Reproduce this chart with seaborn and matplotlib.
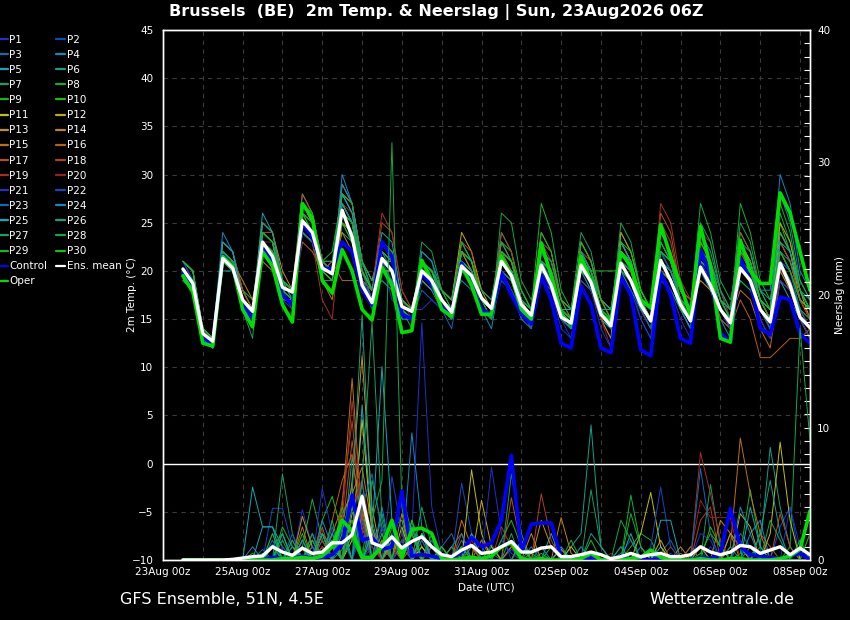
import matplotlib
matplotlib.use("Agg")
import matplotlib.pyplot as plt
import matplotlib.dates as mdates
from matplotlib.lines import Line2D
from matplotlib.ticker import MultipleLocator
import pandas as pd
import seaborn as sns

# 6-hourly forecast steps, first one at 23Aug 12Z, last at 08Sep 06Z
times = pd.date_range("2026-08-23 12:00", periods=64, freq="6h")
tick_days = pd.date_range("2026-08-23", "2026-09-08", freq="2D")

member_names = [f"P{i}" for i in range(1, 31)]
base_colors = ["#1f2fd0", "#1448c0", "#1468b4", "#1488c0", "#14a8b4",
               "#14a088", "#14a064", "#14a844", "#14b42c", "#14c014"]
warm_colors = ["#c0c014", "#c0a814", "#c09414", "#c08414", "#c07014",
               "#b86014", "#b45020", "#b04020", "#a83020", "#982020"]
member_colors = base_colors + warm_colors + base_colors

# 2m temperature of the 30 perturbed members (deg C)
P1_T = [20,19,13,12, 22,21,17,15, 23,22,18,17, 26,25,20,20, 27,25,19,17, 22,21,16,15, 20,19,17,16, 21,19,16,15,
        20,19,16,15, 20,18,14,13, 20,18,15,13, 22,20,17,15, 20,18,16,14, 21,19,16,14, 19,18,15,13, 20,18,15,13]
P2_T = [21,19,14,13, 21,20,17,16, 24,23,19,18, 25,24,20,21, 28,26,20,18, 20,19,16,16, 19,18,17,16, 22,21,17,15,
        22,21,17,16, 23,21,16,15, 22,20,17,15, 20,19,16,14, 22,20,18,16, 19,18,15,14, 21,19,16,14, 22,20,17,15]
P3_T = [20,18,13,12, 22,21,16,15, 25,24,19,18, 27,25,21,20, 25,23,19,16, 21,19,16,15, 18,17,16,15, 20,19,16,15,
        21,20,16,14, 19,18,15,14, 23,21,17,16, 21,20,18,16, 20,19,16,14, 22,20,17,15, 22,20,17,15, 24,22,18,16]
P4_T = [21,20,14,13, 23,22,18,16, 22,21,17,17, 24,23,20,19, 30,27,21,19, 23,21,17,16, 21,20,18,17, 19,18,16,14,
        20,18,15,14, 22,20,16,15, 19,18,15,14, 23,21,17,15, 21,19,16,15, 20,18,15,13, 23,21,17,16, 28,25,19,17]
P5_T = [21,20,13,13, 20,20,17,16, 26,24,19,18, 28,26,21,20, 26,24,20,18, 19,18,15,15, 22,21,18,17, 23,21,17,16,
        19,18,16,15, 21,19,15,14, 21,19,15,14, 20,18,16,14, 23,21,18,16, 21,20,17,16, 20,19,16,14, 19,17,15,14]
P6_T = [20,19,14,13, 22,21,17,15, 23,22,18,18, 24,23,19,19, 27,25,20,17, 22,20,16,15, 20,19,17,15, 20,19,17,16,
        24,22,17,15, 20,19,16,15, 20,18,16,15, 22,20,17,16, 19,18,16,14, 24,22,18,15, 21,19,16,15, 21,20,17,16]
P7_T = [19,18,13,12, 21,20,16,13, 24,23,18,17, 26,25,21,21, 24,23,19,18, 20,20,17,16, 21,20,17,16, 22,20,17,16,
        21,20,18,16, 22,21,17,16, 24,22,17,16, 21,20,17,15, 21,20,17,16, 22,21,18,16, 24,22,18,16, 23,21,18,16]
P8_T = [20,19,14,13, 21,21,18,16, 22,21,17,17, 25,24,20,20, 29,27,21,18, 21,20,16,14, 19,18,16,15, 21,20,17,15,
        26,25,19,17, 21,20,16,16, 22,20,16,15, 24,22,18,16, 22,20,17,16, 27,24,19,17, 22,21,17,15, 26,23,19,17]
P9_T = [20,18,13,12, 23,22,18,17, 23,22,18,18, 27,25,21,22, 28,26,20,18, 22,21,17,16, 20,19,17,16, 21,20,16,15,
        22,21,17,16, 27,24,18,16, 20,19,16,15, 21,20,17,16, 23,21,18,16, 20,19,16,15, 27,24,19,17, 22,20,17,15]
P10_T = [19,18,13,12, 22,21,17,16, 24,23,19,17, 26,24,20,20, 25,23,20,18, 21,20,16,15, 21,20,18,16, 22,21,18,17,
         23,22,18,16, 21,20,17,16, 21,20,20,20, 20,19,16,15, 20,19,17,15, 23,21,17,15, 19,18,16,15, 25,22,18,16]
P11_T = [20,19,14,13, 22,21,17,16, 24,23,18,17, 25,24,20,20, 27,25,19,17, 21,21,17,16, 19,18,17,16, 20,19,16,15,
         20,19,16,15, 22,20,15,14, 23,21,17,16, 22,21,17,15, 21,20,17,16, 20,19,16,15, 23,21,17,16, 24,22,17,16]
P12_T = [21,20,14,13, 21,20,17,15, 23,22,19,18, 27,25,21,20, 26,25,20,18, 20,20,16,15, 21,20,18,17, 24,22,18,16,
         21,20,17,16, 20,19,16,15, 21,20,16,14, 23,21,17,16, 24,22,18,16, 21,20,17,16, 20,19,16,15, 25,23,18,15]
P13_T = [20,19,13,13, 22,21,18,16, 25,24,20,18, 26,25,20,19, 28,27,21,19, 23,22,17,16, 20,19,17,16, 21,20,17,16,
         23,21,17,15, 21,20,16,15, 20,19,15,13, 24,22,18,16, 20,19,16,15, 22,20,16,14, 21,20,16,14, 20,18,15,13]
P14_T = [20,19,14,13, 21,21,19,17, 21,20,18,18, 25,24,20,20, 24,22,19,17, 22,21,17,16, 20,19,17,16, 22,20,17,16,
         22,20,17,16, 24,22,17,16, 22,20,17,15, 21,20,16,15, 21,20,18,17, 19,18,16,15, 22,20,17,15, 23,21,17,15]
P15_T = [20,18,13,12, 22,21,17,16, 24,23,18,17, 24,23,19,17, 25,24,20,18, 21,20,16,15, 21,20,18,17, 20,19,17,16,
         21,20,17,15, 22,21,17,16, 21,20,16,15, 20,19,16,15, 22,21,17,15, 23,21,17,15, 18,17,14,12, 19,18,15,13]
P16_T = [20,19,14,13, 21,20,17,15, 23,22,17,17, 23,22,20,21, 19,19,19,18, 21,20,16,15, 21,20,18,17, 22,21,17,16,
         20,19,16,15, 21,20,16,15, 19,18,15,15, 22,21,17,16, 20,19,16,16, 20,19,15,14, 17,15,11,11, 12,13,13,14]
P17_T = [21,20,14,13, 22,21,17,16, 24,24,19,18, 28,26,21,20, 29,27,20,18, 23,22,17,16, 20,19,17,15, 23,22,17,16,
         22,21,17,15, 23,22,17,15, 21,19,16,14, 21,20,16,15, 26,24,18,16, 22,21,17,16, 24,22,17,15, 21,19,16,14]
P18_T = [20,19,14,13, 23,22,18,16, 22,21,18,17, 26,25,21,20, 25,24,20,18, 25,24,18,16, 19,18,16,15, 21,20,17,16,
         24,22,17,16, 21,20,16,15, 22,21,17,16, 23,21,17,15, 25,23,18,17, 20,19,16,15, 20,19,16,15, 23,21,17,15]
P19_T = [20,19,14,13, 21,20,17,16, 23,22,18,16, 24,23,17,15, 26,25,20,18, 26,24,18,16, 20,19,17,16, 22,21,17,16,
         21,20,16,15, 22,20,16,15, 23,21,17,15, 22,21,17,15, 27,25,19,17, 21,20,16,14, 22,20,16,14, 22,20,17,15]
P20_T = [20,19,14,12, 22,21,17,15, 23,23,18,17, 26,25,21,20, 27,26,20,17, 23,22,17,15, 20,19,17,16, 20,19,16,15,
         22,21,17,16, 23,21,16,15, 20,19,15,12, 21,19,16,14, 21,20,17,15, 24,23,18,15, 20,19,15,13, 20,19,16,14]
P21_T = [20,19,13,12, 21,20,16,15, 22,21,17,16, 24,23,20,20, 23,22,19,17, 21,17,16,16, 16,17,16,15, 20,19,16,15,
         19,18,16,15, 20,19,15,13, 19,18,14,12, 20,19,15,13, 19,18,15,13, 21,20,16,14, 20,19,15,13, 19,18,15,13]
P22_T = [21,19,14,13, 22,21,17,16, 23,22,18,17, 25,24,20,19, 26,24,19,17, 21,20,16,15, 21,20,17,16, 21,20,17,16,
         20,19,16,15, 22,20,16,14, 21,20,16,14, 19,18,15,13, 22,20,17,15, 22,21,17,15, 21,20,16,14, 21,20,16,15]
P23_T = [20,19,13,13, 22,21,17,15, 24,23,19,18, 26,25,20,20, 27,25,20,17, 22,21,16,15, 20,19,16,14, 20,19,16,15,
         21,20,16,14, 21,19,15,14, 22,20,16,14, 21,19,16,14, 21,20,17,16, 20,19,16,15, 21,19,16,14, 22,20,16,14]
P24_T = [20,19,14,13, 24,22,17,16, 22,22,18,17, 24,23,20,20, 29,27,21,18, 20,19,16,15, 22,21,17,16, 21,20,17,16,
         22,21,17,16, 20,19,16,15, 21,20,16,15, 22,21,17,15, 21,19,16,14, 22,20,17,15, 20,20,18,18, 30,27,20,18]
P25_T = [21,20,14,13, 23,22,17,15, 24,23,18,18, 25,24,20,20, 28,26,20,18, 24,23,17,16, 21,20,17,16, 22,21,17,16,
         21,20,17,15, 21,20,16,16, 20,19,16,16, 23,21,17,16, 22,21,17,15, 21,20,16,15, 22,21,17,16, 23,22,18,16]
P26_T = [20,19,13,12, 22,21,17,16, 25,24,19,17, 25,24,20,19, 27,25,20,18, 22,21,17,16, 19,18,16,15, 21,20,17,16,
         20,19,16,15, 21,20,16,14, 22,20,17,16, 20,19,16,15, 21,20,17,16, 22,21,17,16, 23,22,18,17, 24,22,18,16]
P27_T = [20,19,14,13, 21,20,17,16, 23,22,18,17, 24,23,20,19, 26,25,21,19, 21,21,17,16, 20,19,18,17, 21,20,18,17,
         23,21,17,16, 22,21,17,16, 21,20,16,15, 21,20,17,16, 22,21,18,16, 25,23,18,16, 21,20,17,16, 22,21,18,17]
P28_T = [19,18,13,12, 22,21,16,15, 24,23,19,18, 27,26,21,21, 28,27,21,18, 21,20,16,15, 23,22,18,16, 20,19,16,15,
         22,21,17,16, 21,20,16,15, 21,20,16,15, 25,23,18,16, 23,21,17,15, 21,20,17,16, 25,23,18,16, 21,19,16,15]
P29_T = [20,19,14,13, 22,21,17,16, 24,23,18,17, 26,25,21,20, 26,25,20,18, 22,21,16,15, 20,20,18,17, 23,21,17,15,
         21,20,16,15, 24,22,17,15, 20,19,16,15, 22,21,17,15, 22,21,17,16, 20,19,16,15, 22,21,17,15, 27,24,18,16]
P30_T = [21,20,14,13, 21,20,17,16, 23,22,19,18, 26,24,20,19, 25,24,20,18, 23,22,17,16, 21,20,17,16, 22,21,17,16,
         22,21,18,16, 20,19,16,15, 23,21,17,15, 23,22,18,16, 20,19,16,15, 23,21,17,15, 21,20,17,16, 22,20,17,16]

control_t = [19.8, 18.5, 13.2, 12.3, 21.6, 20.5, 16.5, 15.0, 22.5, 21.0, 17.5, 16.5, 25.0, 23.5, 20.3, 20.2,
             23.0, 22.0, 18.0, 16.5, 23.0, 21.5, 15.5, 15.0, 19.8, 18.5, 16.3, 15.5, 20.8, 18.5, 16.0, 15.5,
             19.8, 17.5, 15.5, 14.5, 19.5, 17.0, 12.5, 12.0, 18.4, 16.5, 12.0, 11.5, 19.4, 17.5, 11.8, 11.2,
             19.8, 17.5, 13.0, 12.5, 22.2, 19.5, 13.5, 12.7, 21.3, 19.0, 14.0, 13.4, 17.3, 17.0, 13.5, 12.5]
oper_t = [19.5, 17.8, 12.5, 12.2, 21.5, 20.5, 16.0, 14.2, 22.0, 20.5, 16.5, 14.7, 27.0, 25.5, 19.0, 17.7,
          22.2, 20.0, 16.0, 14.9, 20.4, 18.5, 13.6, 13.8, 21.1, 19.0, 16.0, 15.3, 20.5, 18.5, 15.5, 15.5,
          21.5, 19.5, 16.0, 15.0, 22.9, 19.5, 15.5, 14.5, 21.5, 19.0, 15.5, 14.7, 21.9, 20.5, 17.0, 16.2,
          24.8, 21.5, 18.5, 15.4, 24.6, 20.5, 13.0, 12.6, 23.2, 20.0, 18.7, 18.7, 28.1, 26.0, 22.0, 18.0]
mean_t = [20.2, 18.7, 13.5, 12.7, 21.3, 20.3, 17.0, 15.8, 23.0, 21.5, 18.3, 17.8, 25.2, 24.0, 20.3, 19.7,
          26.3, 23.5, 18.5, 16.7, 21.3, 20.0, 16.3, 15.8, 20.0, 19.0, 17.0, 15.7, 20.5, 19.5, 17.2, 16.1,
          21.0, 19.5, 16.5, 15.4, 20.6, 18.5, 15.2, 14.6, 20.6, 18.8, 15.5, 14.3, 20.8, 19.0, 16.5, 14.8,
          21.1, 19.0, 16.5, 14.8, 20.4, 18.5, 16.0, 14.6, 20.3, 19.0, 16.0, 14.7, 20.8, 18.5, 15.2, 14.1]

# 6-hourly precipitation of the members (mm), only the non-zero steps
P1_R = {7: 0.3, 9: 1.2, 12: 3.8, 13: 1.0, 16: 1.5, 17: 2.0, 19: 1.0, 22: 1.5, 23: 2.0, 24: 17.9, 25: 4.0,
        26: 0.5, 29: 1.0, 33: 0.8, 41: 0.3, 49: 0.5, 53: 1.0}
P2_R = {9: 3.9, 10: 3.9, 11: 1.0, 14: 1.5, 17: 2.5, 18: 3.0, 21: 1.0, 28: 5.8, 29: 2.0, 31: 1.2, 44: 0.5,
        45: 1.5, 52: 1.0, 60: 2.5, 61: 4.0}
P3_R = {8: 0.8, 11: 1.5, 13: 2.0, 15: 2.5, 18: 3.5, 20: 2.0, 22: 1.0, 26: 1.0, 27: 2.0, 30: 1.5, 31: 0.5,
        48: 0.5, 49: 1.5, 56: 2.0, 57: 1.0}
P4_R = {7: 1.0, 10: 2.0, 12: 1.5, 16: 3.0, 17: 5.5, 19: 2.0, 23: 9.6, 24: 2.5, 28: 1.5, 35: 1.0, 44: 1.0,
        47: 0.5, 57: 2.0, 58: 3.0}
P5_R = {7: 5.5, 8: 2.5, 9: 2.5, 10: 1.0, 14: 2.0, 15: 1.0, 18: 11.7, 19: 2.5, 21: 1.5, 25: 1.0, 37: 2.0,
        48: 1.0, 55: 2.0, 56: 1.0}
P6_R = {9: 1.0, 11: 0.5, 13: 1.0, 15: 2.0, 17: 7.8, 18: 3.0, 20: 1.0, 24: 1.0, 33: 1.0, 39: 1.0, 40: 2.0,
        41: 10.2, 42: 1.0, 58: 1.0, 59: 8.5, 60: 4.0, 61: 1.0}
P7_R = {8: 0.5, 10: 6.5, 11: 2.0, 13: 1.0, 16: 2.5, 17: 3.0, 20: 3.5, 22: 1.5, 26: 0.5, 33: 6.5, 34: 2.0,
        41: 5.3, 42: 1.0, 51: 1.0, 53: 5.7, 54: 1.0}
P8_R = {12: 1.0, 13: 4.6, 14: 1.5, 17: 2.0, 18: 5.0, 19: 1.5, 23: 3.0, 24: 1.0, 29: 1.0, 36: 0.5, 45: 1.0,
        46: 2.0, 47: 1.5, 61: 1.0, 62: 17.5, 63: 9.0}
P9_R = {9: 1.0, 10: 2.0, 12: 1.0, 14: 1.0, 16: 0.8, 17: 3.0, 19: 6.0, 20: 2.5, 24: 2.0, 25: 1.0, 40: 1.0,
        45: 4.9, 46: 1.0, 56: 0.5, 57: 5.3, 58: 1.0}
P10_R = {11: 1.0, 14: 3.0, 15: 4.8, 16: 2.0, 19: 1.5, 21: 2.5, 22: 3.0, 27: 1.0, 31: 1.0, 37: 1.0, 52: 0.5,
         53: 2.0, 54: 1.0, 63: 2.0}
P11_R = {12: 1.5, 14: 2.0, 17: 1.5, 18: 10.6, 19: 2.0, 22: 2.5, 24: 1.0, 29: 6.8, 30: 2.0, 39: 1.0, 46: 2.0,
         47: 5.1, 48: 1.0, 59: 2.0, 60: 8.9, 61: 3.0}
P12_R = {13: 1.5, 15: 1.0, 17: 3.5, 18: 4.0, 20: 1.5, 23: 2.5, 25: 1.5, 30: 4.5, 31: 1.0, 38: 0.8, 48: 1.5,
         52: 1.0, 56: 3.5, 57: 2.5}
P13_R = {12: 3.3, 13: 1.0, 15: 1.5, 17: 6.0, 18: 15.4, 19: 4.0, 21: 1.5, 23: 2.0, 26: 1.0, 34: 1.5, 36: 3.0,
         37: 1.0, 55: 2.0, 56: 1.0}
P14_R = {14: 1.0, 16: 3.5, 17: 5.0, 18: 7.0, 19: 2.5, 22: 3.5, 28: 1.0, 35: 2.0, 38: 3.2, 39: 0.5, 50: 1.0,
         54: 3.0, 55: 2.0}
P15_R = {12: 2.5, 15: 2.0, 16: 4.0, 17: 13.7, 18: 3.0, 20: 1.5, 23: 1.0, 28: 3.0, 29: 1.0, 33: 1.0, 42: 0.5,
         55: 1.0, 56: 9.2, 57: 5.0, 58: 2.0}
P16_R = {13: 1.0, 15: 3.0, 16: 6.0, 17: 8.0, 18: 2.0, 21: 1.0, 24: 2.0, 30: 1.5, 41: 0.5, 50: 0.5, 58: 2.0,
         59: 1.0}
P17_R = {12: 0.8, 14: 2.5, 16: 2.0, 17: 9.0, 18: 3.5, 22: 1.5, 25: 1.0, 33: 4.7, 34: 1.0, 45: 0.5, 51: 1.0,
         60: 3.5, 61: 1.0}
P18_R = {14: 1.5, 16: 4.5, 17: 10.5, 18: 2.5, 20: 2.5, 24: 1.5, 28: 2.0, 36: 5.0, 37: 1.5, 49: 1.0, 52: 3.0,
         53: 4.0, 56: 1.5}
P19_R = {13: 0.5, 15: 1.0, 16: 3.0, 17: 12.0, 18: 4.0, 19: 1.0, 23: 2.0, 27: 1.0, 32: 2.5, 33: 1.0, 52: 8.1,
         53: 5.0, 54: 1.5}
P20_R = {12: 1.5, 14: 1.0, 17: 4.0, 18: 6.0, 19: 1.5, 22: 2.0, 29: 1.5, 34: 1.0, 43: 0.5, 51: 0.5, 52: 4.5,
         53: 3.2, 54: 3.2, 55: 3.2}
P21_R = {9: 2.0, 12: 1.5, 14: 5.4, 15: 2.0, 18: 2.0, 20: 2.5, 22: 1.5, 26: 1.0, 31: 7.0, 32: 2.0, 42: 0.5,
         52: 2.0, 53: 1.5, 61: 4.0, 62: 1.0}
P22_R = {10: 1.0, 13: 2.0, 16: 1.5, 18: 3.0, 21: 6.3, 22: 2.0, 25: 1.5, 28: 1.0, 32: 1.5, 33: 0.5, 47: 1.0,
         48: 5.5, 49: 1.0, 56: 1.5}
P23_R = {9: 1.5, 11: 2.0, 13: 1.0, 16: 2.5, 18: 4.0, 19: 6.5, 20: 2.0, 24: 1.5, 29: 2.0, 30: 1.0, 40: 1.0,
         44: 0.5, 52: 6.9, 53: 2.0}
P24_R = {11: 1.0, 14: 3.0, 15: 1.0, 18: 6.0, 20: 4.0, 23: 2.5, 27: 1.0, 28: 2.0, 36: 1.0, 46: 1.0, 56: 4.0,
         57: 2.0}
P25_R = {8: 2.5, 9: 2.5, 12: 1.0, 14: 2.0, 16: 3.0, 19: 2.0, 20: 14.6, 21: 3.0, 24: 2.0, 29: 2.0, 38: 1.0,
         45: 2.0, 48: 3.0, 49: 3.0, 57: 4.0, 58: 1.0}
P26_R = {10: 2.0, 12: 1.5, 15: 2.0, 17: 5.0, 18: 18.5, 19: 3.0, 23: 2.0, 26: 1.0, 34: 1.5, 41: 2.0, 42: 1.0,
         58: 2.0, 59: 6.0, 60: 2.0}
P27_R = {9: 1.0, 11: 1.5, 14: 2.0, 16: 2.0, 18: 6.0, 19: 18.0, 20: 3.0, 24: 4.0, 25: 1.0, 33: 2.0, 44: 1.0,
         55: 1.0, 59: 3.0, 60: 1.5}
P28_R = {10: 1.5, 13: 2.0, 15: 3.0, 17: 4.0, 19: 3.0, 20: 6.0, 21: 31.5, 22: 4.0, 25: 2.0, 27: 1.0, 39: 1.5,
         44: 3.0, 45: 1.5, 57: 1.0}
P29_R = {7: 0.5, 10: 2.5, 11: 1.0, 13: 1.5, 16: 4.0, 17: 1.5, 20: 2.0, 22: 5.0, 23: 2.0, 32: 1.5, 33: 3.0,
         34: 1.0, 45: 3.5, 46: 1.0}
P30_R = {9: 2.0, 12: 2.0, 15: 1.5, 17: 2.0, 18: 4.5, 21: 2.0, 23: 3.0, 26: 1.0, 28: 1.0, 35: 0.5, 41: 1.5,
         53: 2.5, 54: 1.0, 62: 1.5}

control_r = [0, 0, 0, 0, 0, 0, 0, 0, 0, 0.2, 0.1, 0.1, 0.3, 0.1, 0.2, 0.4,
             1.2, 4.9, 1.5, 1.7, 0.8, 1.0, 5.2, 0.3, 0.4, 0.3, 0.1, 0.1, 0.6, 1.7, 1.0, 1.3,
             3.0, 7.9, 0.6, 2.7, 2.8, 2.8, 0.2, 0.1, 0, 0.1, 0, 0, 0.1, 0, 0, 0,
             0.1, 0, 0, 0, 0.2, 0.1, 0.5, 3.9, 1.0, 0.4, 0.3, 0.2, 0.1, 0.3, 0.5, 0]
oper_r = [0, 0, 0, 0, 0, 0, 0, 0, 0, 0, 0.1, 0.1, 0.2, 0.1, 0.3, 1.0,
          3.0, 2.2, 0.2, 0.2, 1.0, 3.0, 0.2, 2.3, 2.4, 2.0, 0.1, 0, 0.1, 0.2, 0.1, 0.3,
          1.0, 1.3, 0.1, 0, 0.1, 0, 0, 0, 0.1, 0.5, 0, 0, 0, 0.1, 0.2, 0.75,
          0.2, 0, 0, 0, 0.1, 0, 0, 0.1, 0.1, 0, 0, 0, 0.1, 0.3, 0.8, 3.7]
mean_r = [0, 0, 0, 0, 0, 0.05, 0.15, 0.25, 0.3, 1.0, 0.6, 0.35, 0.9, 0.5, 0.6, 1.3,
          1.3, 1.9, 4.8, 1.3, 1.0, 1.75, 0.9, 1.4, 1.75, 1.0, 0.4, 0.25, 0.75, 1.1, 0.5, 0.6,
          1.0, 1.4, 0.6, 0.6, 0.9, 1.0, 0.25, 0.25, 0.4, 0.6, 0.4, 0.1, 0.25, 0.5, 0.25, 0.4,
          0.5, 0.25, 0.25, 0.4, 1.0, 0.6, 0.4, 0.6, 1.1, 1.0, 0.5, 0.75, 1.0, 0.4, 0.9, 0.4]

member_temps = [P1_T, P2_T, P3_T, P4_T, P5_T, P6_T, P7_T, P8_T, P9_T, P10_T,
                P11_T, P12_T, P13_T, P14_T, P15_T, P16_T, P17_T, P18_T, P19_T, P20_T,
                P21_T, P22_T, P23_T, P24_T, P25_T, P26_T, P27_T, P28_T, P29_T, P30_T]
member_rain = [P1_R, P2_R, P3_R, P4_R, P5_R, P6_R, P7_R, P8_R, P9_R, P10_R,
               P11_R, P12_R, P13_R, P14_R, P15_R, P16_R, P17_R, P18_R, P19_R, P20_R,
               P21_R, P22_R, P23_R, P24_R, P25_R, P26_R, P27_R, P28_R, P29_R, P30_R]

# long tables for seaborn
temp_df = pd.concat([pd.DataFrame({"time": times, "member": n, "value": v})
                     for n, v in zip(member_names, member_temps)], ignore_index=True)
rain_df = pd.concat([pd.DataFrame({"time": times, "member": n,
                                   "value": [r.get(i, 0.0) for i in range(len(times))]})
                     for n, r in zip(member_names, member_rain)], ignore_index=True)
palette = dict(zip(member_names, member_colors))

sns.set_theme(style="dark")
plt.rcParams["font.family"] = ["DejaVu Sans"]

fig = plt.figure(figsize=(8.5, 6.2), dpi=100, facecolor="black")
ax = fig.add_axes([163 / 850, 60 / 620, 647 / 850, 530 / 620])
ax.set_facecolor("black")
ax.set_axisbelow(True)

sns.lineplot(data=temp_df, x="time", y="value", hue="member", palette=palette,
             estimator=None, linewidth=0.7, legend=False, ax=ax)
sns.lineplot(x=times, y=control_t, color="#0000ff", linewidth=2.6, ax=ax)
sns.lineplot(x=times, y=oper_t, color="#00dd00", linewidth=2.6, ax=ax)
sns.lineplot(x=times, y=mean_t, color="white", linewidth=2.4, ax=ax)
ax.axhline(0, color="white", linewidth=1.0)

ax2 = ax.twinx()
sns.lineplot(data=rain_df, x="time", y="value", hue="member", palette=palette,
             estimator=None, linewidth=0.7, legend=False, ax=ax2)
sns.lineplot(x=times, y=control_r, color="#0000ff", linewidth=2.6, ax=ax2)
sns.lineplot(x=times, y=oper_r, color="#00dd00", linewidth=2.6, ax=ax2)
sns.lineplot(x=times, y=mean_r, color="white", linewidth=2.4, ax=ax2)

ax.set_xlim(pd.Timestamp("2026-08-23 00:00"), pd.Timestamp("2026-09-08 06:00"))
ax.set_ylim(-10, 45)
ax2.set_ylim(0, 40)
ax.set_yticks(range(-10, 50, 5))
ax.set_xticks(tick_days)
ax.xaxis.set_major_formatter(mdates.DateFormatter("%d%b %Hz"))
ax.xaxis.set_minor_locator(mdates.DayLocator())
ax2.yaxis.set_major_locator(MultipleLocator(10))
ax2.yaxis.set_minor_locator(MultipleLocator(1))

grid_kw = dict(color="#3a3a3a", linestyle=(0, (4, 4)), linewidth=0.8)
ax.grid(True, axis="x", which="both", **grid_kw)
ax.grid(True, axis="y", which="major", **grid_kw)
ax2.grid(False)

ax.tick_params(axis="both", which="both", length=0, colors="white", labelsize=7.5)
ax.tick_params(axis="y", pad=7)
ax.tick_params(axis="x", pad=5)
ax2.tick_params(axis="y", which="major", direction="in", length=4, width=0.8,
                colors="white", labelsize=7.5, pad=5)
ax2.tick_params(axis="y", which="minor", direction="in", length=4, width=0.8, color="white")

for a in (ax, ax2):
    for s in a.spines.values():
        s.set_color("white")
        s.set_linewidth(1.0)

ax.set_xlabel("Date (UTC)", color="white", fontsize=7.5, labelpad=4)
ax.set_ylabel("2m Temp. (°C)", color="white", fontsize=7.5)
ax.yaxis.set_label_coords(-0.040, 0.5)
ax2.set_ylabel("Neerslag (mm)", color="white", fontsize=7.5, rotation=90)
ax2.yaxis.set_label_coords(1.038, 0.5)

fig.text(436 / 850, 0.980, "Brussels  (BE)  2m Temp. & Neerslag | Sun, 23Aug2026 06Z",
         ha="center", va="center", color="white", fontsize=11.5, fontweight="bold")
fig.text(120 / 850, 1 - 599 / 620, "GFS Ensemble, 51N, 4.5E", ha="left", va="center",
         color="white", fontsize=11.5)
fig.text(794 / 850, 1 - 599 / 620, "Wetterzentrale.de", ha="right", va="center",
         color="white", fontsize=11.5)

# legend: row order P1 P2 / P3 P4 ..., so feed odd members first, then even ones
handles = {n: Line2D([], [], color=c, linewidth=1.6) for n, c in palette.items()}
handles["Control"] = Line2D([], [], color="#0000ff", linewidth=1.6)
handles["Ens. mean"] = Line2D([], [], color="white", linewidth=1.6)
handles["Oper"] = Line2D([], [], color="#00dd00", linewidth=1.6)
order = member_names[0::2] + ["Control", "Oper"] + member_names[1::2] + ["Ens. mean"]
fig.legend([handles[k] for k in order], order, loc="upper left",
           bbox_to_anchor=(-0.002, 0.944), ncol=2, frameon=False, fontsize=7.5,
           labelcolor="white", handlelength=0.9, handletextpad=0.15,
           columnspacing=0.8, labelspacing=0.49, borderpad=0, borderaxespad=0)

fig.savefig("out.png", dpi=100, facecolor="black")
